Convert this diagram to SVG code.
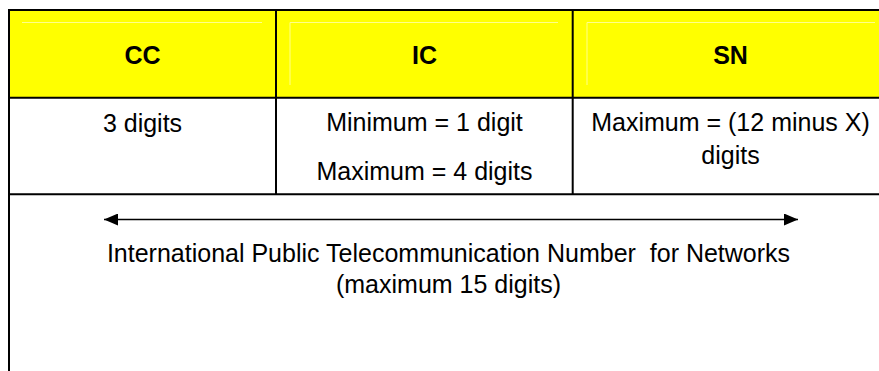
<svg xmlns="http://www.w3.org/2000/svg" width="879" height="371" viewBox="0 0 879 371">
  <style>
    .grid { stroke: #000; stroke-width: 2; fill: none; }
    .inner { stroke: #ffff8c; stroke-width: 1; fill: none; }
    .head { font-family: "Liberation Sans", Arial, sans-serif; font-size: 25px; font-weight: bold; fill: #000; text-anchor: middle; }
    .body { font-family: "Liberation Sans", Arial, sans-serif; font-size: 25px; fill: #000; text-anchor: middle; }
    .conn { stroke: #000; stroke-width: 1.4; fill: none; }
  </style>
  <defs>
    <marker id="arrowEnd" markerUnits="userSpaceOnUse" viewBox="0 0 14 12" refX="14" refY="6" markerWidth="14" markerHeight="12" orient="auto">
      <path d="M0,0 L14,6 L0,12 Z" fill="#000"/>
    </marker>
    <marker id="arrowStart" markerUnits="userSpaceOnUse" viewBox="0 0 14 12" refX="0" refY="6" markerWidth="14" markerHeight="12" orient="auto">
      <path d="M14,0 L0,6 L14,12 Z" fill="#000"/>
    </marker>
  </defs>

  <rect width="879" height="371" fill="#fff"/>

  <!-- header band -->
  <rect x="9" y="10" width="870" height="88" fill="#ffff00"/>
  <!-- pale inner cell edges in the header -->
  <path class="inner" d="M22,22.5 H262 M290,85 V22.5 H558 M587,85 V22.5 H875"/>

  <!-- table rules -->
  <g id="table">
    <path class="grid" d="M9,371 V10 H879 M9,97.7 H879 M9,194.3 H879 M276,10 V194.3 M572.7,10 V194.3"/>
  </g>

  <g id="cc">
    <text class="head" x="142.5" y="64">CC</text>
    <text class="body" x="142.5" y="131.5">3 digits</text>
  </g>

  <g id="ic">
    <text class="head" x="424.5" y="64">IC</text>
    <text class="body" x="424.5" y="131">Minimum = 1 digit</text>
    <text class="body" x="424.5" y="180">Maximum = 4 digits</text>
  </g>

  <g id="sn">
    <text class="head" x="730.5" y="64">SN</text>
    <text class="body" x="730.5" y="130.5">Maximum = (12 minus X)</text>
    <text class="body" x="730.5" y="164">digits</text>
  </g>

  <g id="connectors">
    <line class="conn" x1="104" y1="219.5" x2="798" y2="219.5" marker-start="url(#arrowStart)" marker-end="url(#arrowEnd)"/>
  </g>

  <g id="number">
    <text class="body" x="448.5" y="262" xml:space="preserve">International Public Telecommunication Number  for Networks</text>
    <text class="body" x="448.5" y="293">(maximum 15 digits)</text>
  </g>
</svg>
